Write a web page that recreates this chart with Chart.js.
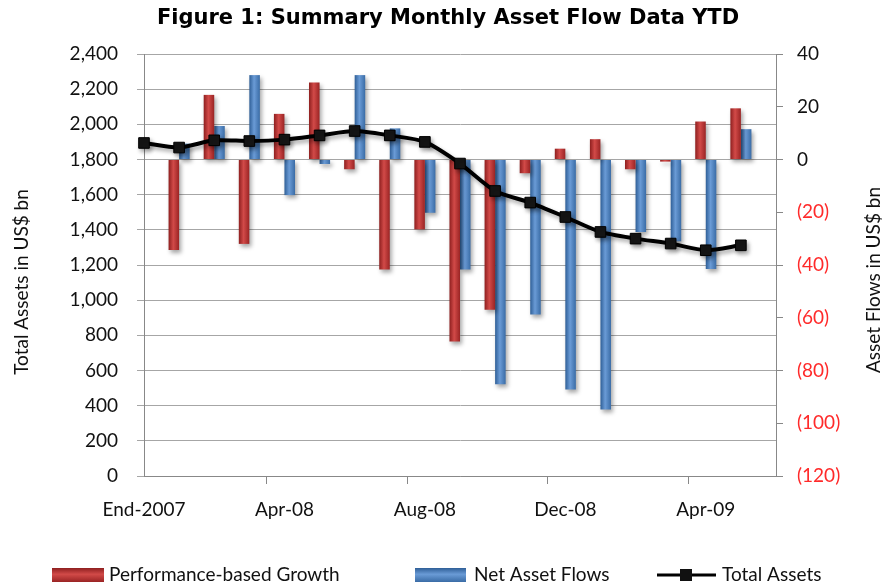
<!DOCTYPE html>
<html lang="en">
<head>
<meta charset="UTF-8">
<title>Summary Monthly Asset Flow Data YTD</title>
<script src="https://cdn.jsdelivr.net/npm/chart.js"></script>
<style>
  html, body { margin: 0; padding: 0; background: #fff; }
  #wrap { width: 885px; height: 586px; position: relative; }
</style>
</head>
<body>
<div id="wrap"><canvas id="flowChart"></canvas></div>

<script>
  // months (last slot is the empty one at the right edge)
  const months = ['End-2007', 'Jan-08', 'Feb-08', 'Mar-08', 'Apr-08', 'May-08', 'Jun-08', 'Jul-08',
    'Aug-08', 'Sep-08', 'Oct-08', 'Nov-08', 'Dec-08', 'Jan-09', 'Feb-09', 'Mar-09', 'Apr-09', 'May-09', ''];
  // US$ bn, right axis
  const perfGrowth = [null, -34.3, 24.5, -32, 17.3, 29.2, -3.7, -41.7, -26.5, -69, -57, -5.2, 4.1, 7.7, -3.7, -0.8, 14.4, 19.4, null];
  const netFlows = [null, 6, 12.7, 32, -13.5, -1.7, 32, 11.8, -20.2, -41.7, -85.2, -58.8, -87.2, -94.8, -27.5, -31, -41.5, 11.5, null];
  // US$ bn, left axis
  const totalAssets = [1894, 1868, 1909, 1905, 1913, 1937, 1962, 1937, 1900, 1777, 1621, 1555, 1473, 1388, 1350, 1322, 1284, 1312, null];

  const chartTitle = 'Figure 1: Summary Monthly Asset Flow Data YTD';
  const leftTitle = 'Total Assets in US$ bn';
  const rightTitle = 'Asset Flows in US$ bn';

  const FONT = 'Lato, "Open Sans", sans-serif';
  // dark edge, light middle, dark edge
  const shades = {
    perf: ['#8e1f1f', '#d24a48', '#9a2424'],
    net: ['#2f5f97', '#6a9bd6', '#3a6ca6']
  };

  // cylinder-ish shading and soft drop shadow like the Excel original
  const barShade = {
    id: 'barShade',
    beforeDatasetDraw(chart, args) {
      const ctx = chart.ctx;
      const meta = args.meta;
      ctx.save();
      ctx.shadowColor = 'rgba(0,0,0,0.35)';
      ctx.shadowBlur = 4;
      ctx.shadowOffsetX = 2;
      ctx.shadowOffsetY = 3;
      if (meta.type !== 'bar') return;
      const cols = shades[meta._dataset.key];
      meta.data.forEach(bar => {
        const l = bar.x - bar.width / 2, r = bar.x + bar.width / 2;
        const g = ctx.createLinearGradient(l, 0, r, 0);
        g.addColorStop(0, cols[0]);
        g.addColorStop(0.45, cols[1]);
        g.addColorStop(1, cols[2]);
        bar.options.backgroundColor = g;
      });
    },
    afterDatasetDraw(chart) {
      chart.ctx.restore();
    }
  };

  const extras = {
    id: 'extras',
    afterDraw(chart) {
      const ctx = chart.ctx;
      ctx.save();
      // title
      ctx.fillStyle = '#000';
      ctx.font = 'bold 21px "DejaVu Sans", Verdana, sans-serif';
      ctx.textAlign = 'center';
      ctx.textBaseline = 'middle';
      ctx.fillText(chartTitle, 448, 19);

      // axis titles, both read bottom to top
      ctx.font = '19px ' + FONT;
      ctx.fillStyle = '#111';
      [[leftTitle, 22, 282], [rightTitle, 874, 280]].forEach(([t, x, y]) => {
        ctx.save();
        ctx.translate(x, y);
        ctx.rotate(-Math.PI / 2);
        ctx.fillText(t, 0, 0);
        ctx.restore();
      });

      // legend
      const ly = 575;
      ctx.font = '19px ' + FONT;
      ctx.textAlign = 'left';
      const boxes = [[52, 52, shades.perf, 109], [415, 51, shades.net, 474]];
      boxes.forEach(([x, w, cols, tx], i) => {
        const g = ctx.createLinearGradient(0, ly - 7, 0, ly + 7);
        g.addColorStop(0, cols[0]);
        g.addColorStop(0.45, cols[1]);
        g.addColorStop(1, cols[2]);
        ctx.fillStyle = g;
        ctx.fillRect(x, ly - 7, w, 14);
        ctx.fillStyle = '#111';
        ctx.fillText(chart.data.datasets[i].label, tx, ly);
      });
      ctx.strokeStyle = '#000';
      ctx.lineWidth = 3;
      ctx.beginPath();
      ctx.moveTo(657, ly);
      ctx.lineTo(716, ly);
      ctx.stroke();
      ctx.fillStyle = '#111';
      ctx.fillRect(680, ly - 6, 12, 12);
      ctx.fillText(chart.data.datasets[2].label, 722, ly);
      ctx.restore();
    }
  };

  const ctx = document.getElementById('flowChart').getContext('2d');
  const flowChart = new Chart(ctx, {
    type: 'bar',
    data: {
      labels: months,
      datasets: [{
        key: 'perf',
        label: 'Performance-based Growth',
        data: perfGrowth,
        yAxisID: 'y2',
        backgroundColor: () => '#b83232',
        categoryPercentage: 0.6,
        barPercentage: 1.0,
        order: 1
      }, {
        key: 'net',
        label: 'Net Asset Flows',
        data: netFlows,
        yAxisID: 'y2',
        backgroundColor: () => '#4a7ebb',
        categoryPercentage: 0.6,
        barPercentage: 1.0,
        order: 1
      }, {
        type: 'line',
        label: 'Total Assets',
        data: totalAssets,
        yAxisID: 'y',
        borderColor: '#000',
        borderWidth: 4,
        tension: 0.25,
        pointStyle: 'rect',
        pointRadius: 7.5,
        pointBackgroundColor: '#151515',
        pointBorderColor: '#000',
        pointBorderWidth: 1,
        order: 0
      }]
    },
    options: {
      responsive: true,
      maintainAspectRatio: false,
      animation: false,
      layout: { padding: { top: 54, left: 0, right: 0, bottom: 0 } },
      plugins: {
        legend: { display: false },
        title: { display: false },
        tooltip: { enabled: false }
      },
      scales: {
        x: {
          offset: false,
          afterFit: s => { s.height = 110; },
          grid: {
            drawOnChartArea: false,
            tickLength: 8,
            color: c => (c.index % 4 === 0 ? '#888' : 'rgba(0,0,0,0)')
          },
          border: { color: '#888' },
          ticks: {
            autoSkip: false,
            maxRotation: 0,
            padding: 14,
            color: '#111',
            font: { family: FONT, size: 19 },
            callback: (v, i) => (i % 4 === 0 ? months[i] : '')
          }
        },
        y: {
          position: 'left',
          min: 0,
          max: 2400,
          afterFit: s => { s.width = 144; },
          grid: { color: '#a6a6a6', tickLength: 7 },
          border: { color: '#888' },
          ticks: {
            stepSize: 200,
            padding: 19,
            color: '#111',
            font: { family: FONT, size: 19 },
            callback: v => v.toLocaleString('en-US')
          }
        },
        y2: {
          position: 'right',
          min: -120,
          max: 40,
          afterFit: s => { s.width = 109; },
          grid: { drawOnChartArea: false, color: '#888', tickLength: 7 },
          border: { color: '#888' },
          ticks: {
            stepSize: 20,
            padding: 14,
            font: { family: FONT, size: 19 },
            color: c => (c.tick.value < 0 ? '#ff2a2a' : '#111'),
            callback: v => (v < 0 ? '(' + (-v) + ')' : String(v))
          }
        }
      }
    },
    plugins: [barShade, extras]
  });
</script>
</body>
</html>
